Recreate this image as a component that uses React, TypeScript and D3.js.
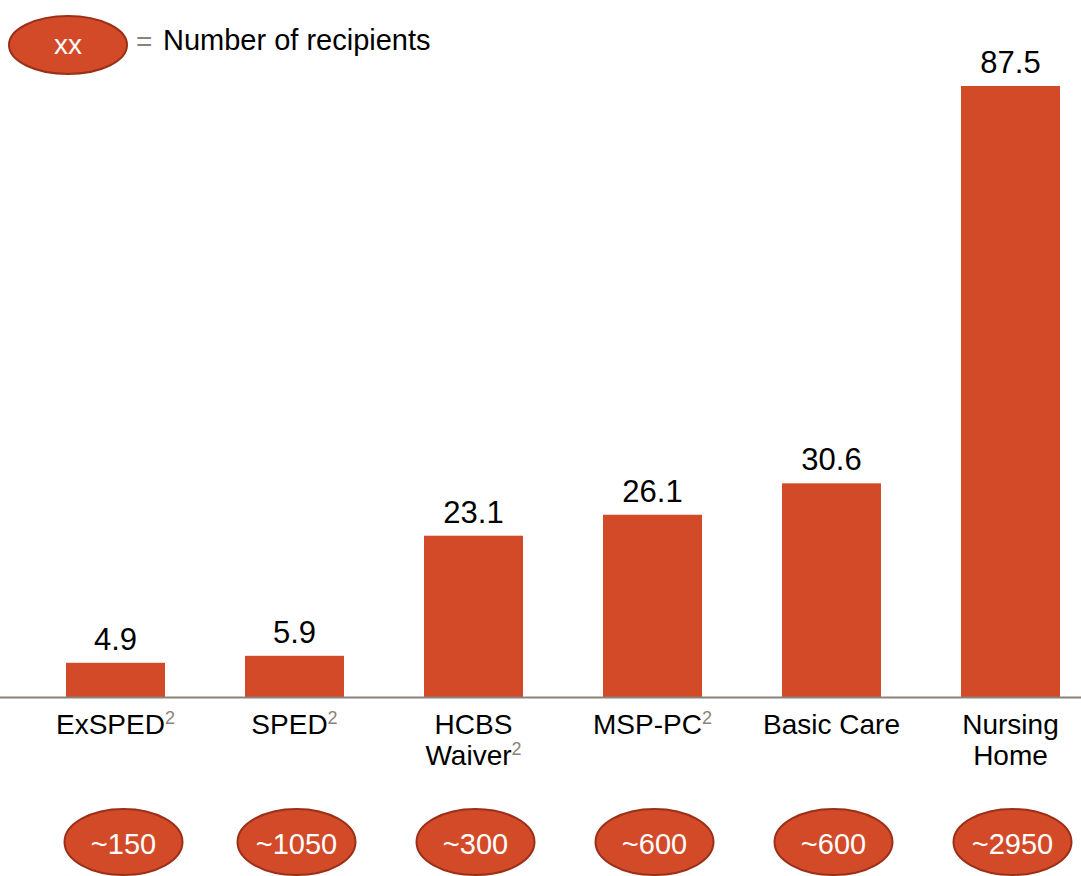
import React from 'react';
import * as d3 from 'd3';

// Program names (line breaks as drawn), superscript footnote flags, values and recipient counts
const categories = ['ExSPED', 'SPED', 'HCBS Waiver', 'MSP-PC', 'Basic Care', 'Nursing Home'];
const labelLines = [['ExSPED'], ['SPED'], ['HCBS', 'Waiver'], ['MSP-PC'], ['Basic Care'], ['Nursing', 'Home']];
const footnote = [true, true, true, true, false, false];
const values = [4.9, 5.9, 23.1, 26.1, 30.6, 87.5];
const recipients = ['~150', '~1050', '~300', '~600', '~600', '~2950'];

const W = 1081;
const H = 876;
const BAR = '#d34a28';
const EDGE = '#9a3018';
const GREY = '#8c8279';
const FONT = '"Liberation Sans", Arial, sans-serif';

const App: React.FC = () => {
  const baseline = 697;

  const x = d3.scaleBand<string>()
    .domain(categories)
    .range([26, 1100])
    .paddingInner(0.447)
    .paddingOuter(0.2235);

  const y = d3.scaleLinear()
    .domain([0, 87.5])
    .range([baseline, 86]);

  return (
    <svg width={W} height={H} style={{ position: 'absolute', left: 0, top: 0, fontFamily: FONT }}>
      {/* legend */}
      <ellipse cx={68} cy={45} rx={59} ry={29} fill={BAR} stroke={EDGE} strokeWidth={2} />
      <text x={68} y={54} textAnchor="middle" fill="#fff" fontSize={28}>xx</text>
      <text x={136} y={51} fill={GREY} fontSize={28}>=</text>
      <text x={163} y={50} fill="#000" fontSize={29}>Number of recipients</text>

      {categories.map((c, i) => {
        const cx = (x(c) ?? 0) + x.bandwidth() / 2;
        const lines = labelLines[i];
        return (
          <g key={c}>
            <rect
              x={x(c)}
              y={y(values[i])}
              width={x.bandwidth()}
              height={baseline - y(values[i])}
              fill={BAR}
            />
            <text x={cx} y={y(values[i]) - 13} textAnchor="middle" fontSize={31} fill="#000">
              {values[i].toFixed(1)}
            </text>
            <text textAnchor="middle" fontSize={28} fill="#000">
              {lines.map((ln, k) => (
                <tspan key={k} x={cx} y={734 + k * 31}>
                  {ln}
                  {footnote[i] && k === lines.length - 1 && (
                    <tspan fontSize={18} fill={GREY} dy={-10}>2</tspan>
                  )}
                </tspan>
              ))}
            </text>
            <ellipse cx={cx + (i === 0 ? 8 : 2)} cy={842} rx={59} ry={33} fill={BAR} stroke={EDGE} strokeWidth={2} />
            <text x={cx + (i === 0 ? 8 : 2)} y={854} textAnchor="middle" fill="#fff" fontSize={29}>
              {recipients[i]}
            </text>
          </g>
        );
      })}

      <line x1={0} x2={W} y1={baseline + 0.5} y2={baseline + 0.5} stroke={GREY} strokeWidth={2} />
    </svg>
  );
};

export default App;
